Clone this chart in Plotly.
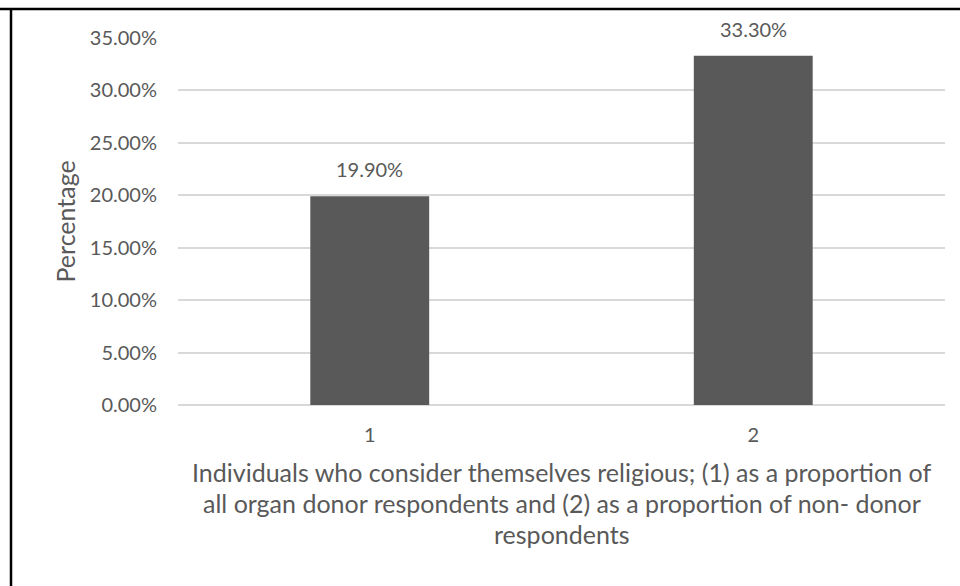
import plotly.graph_objects as go

categories = ["1", "2"]
values = [19.9, 33.3]
tick_vals = [0, 5, 10, 15, 20, 25, 30, 35]
tick_text = ["0.00%", "5.00%", "10.00%", "15.00%", "20.00%", "25.00%", "30.00%", "35.00%"]
value_labels = ["19.90%", "33.30%"]
x_title_lines = [
    "Individuals who consider themselves religious; (1) as a proportion of",
    "all organ donor respondents and (2) as a proportion of non- donor",
    "respondents",
]
y_title = "Percentage"

FONT = "Lato"
GREY = "#595959"

fig = go.Figure()
fig.add_trace(go.Bar(
    x=categories, y=values, marker=dict(color=GREY, line=dict(width=0)),
    width=0.31, hoverinfo="skip",
))

annotations = []
# on a category axis, annotation x is the category index
for i, (v, t) in enumerate(zip(values, value_labels)):
    annotations.append(dict(x=i, y=v, xref="x", yref="y", text=t, showarrow=False,
                            yanchor="middle", yshift=27,
                            font=dict(family=FONT, size=20, color=GREY)))
for i, line in enumerate(x_title_lines):
    annotations.append(dict(x=0.5, y=0, xref="paper", yref="paper", text=line,
                            showarrow=False, yanchor="middle", xanchor="center",
                            yshift=-(67 + 31 * i),
                            font=dict(family=FONT, size=25, color=GREY)))
annotations.append(dict(x=0, y=0.5, xref="paper", yref="paper", text=y_title,
                        showarrow=False, textangle=-90, xanchor="center", yanchor="middle",
                        xshift=-114, font=dict(family=FONT, size=25, color=GREY)))

fig.update_layout(
    width=960, height=586,
    margin=dict(l=178, r=15, t=38, b=181),
    paper_bgcolor="white", plot_bgcolor="white",
    showlegend=False,
    annotations=annotations,
    xaxis=dict(type="category", range=[-0.5, len(categories) - 0.5],
               showgrid=False, showline=False, zeroline=False, ticks="",
               tickfont=dict(family=FONT, size=20, color=GREY), ticklabelstandoff=16),
    yaxis=dict(range=[0, 35], tickvals=tick_vals, ticktext=tick_text,
               showgrid=True, gridcolor="#d9d9d9", gridwidth=1.5,
               zeroline=True, zerolinecolor="#d9d9d9", zerolinewidth=1.5,
               showline=False, ticks="", ticklabelstandoff=20,
               tickfont=dict(family=FONT, size=20, color=GREY)),
    shapes=[
        dict(type="line", xref="paper", yref="paper", x0=-178/767, x1=1 + 15/767,
             y0=1 + 29/367, y1=1 + 29/367, line=dict(color="black", width=2.5)),
        dict(type="line", xref="paper", yref="paper", x0=-167/767, x1=-167/767,
             y0=1 + 29/367, y1=-181/367, line=dict(color="black", width=2.5)),
    ],
)

fig.write_html("out.html", config={"displayModeBar": False},
               post_script="document.body.style.margin='0';")
